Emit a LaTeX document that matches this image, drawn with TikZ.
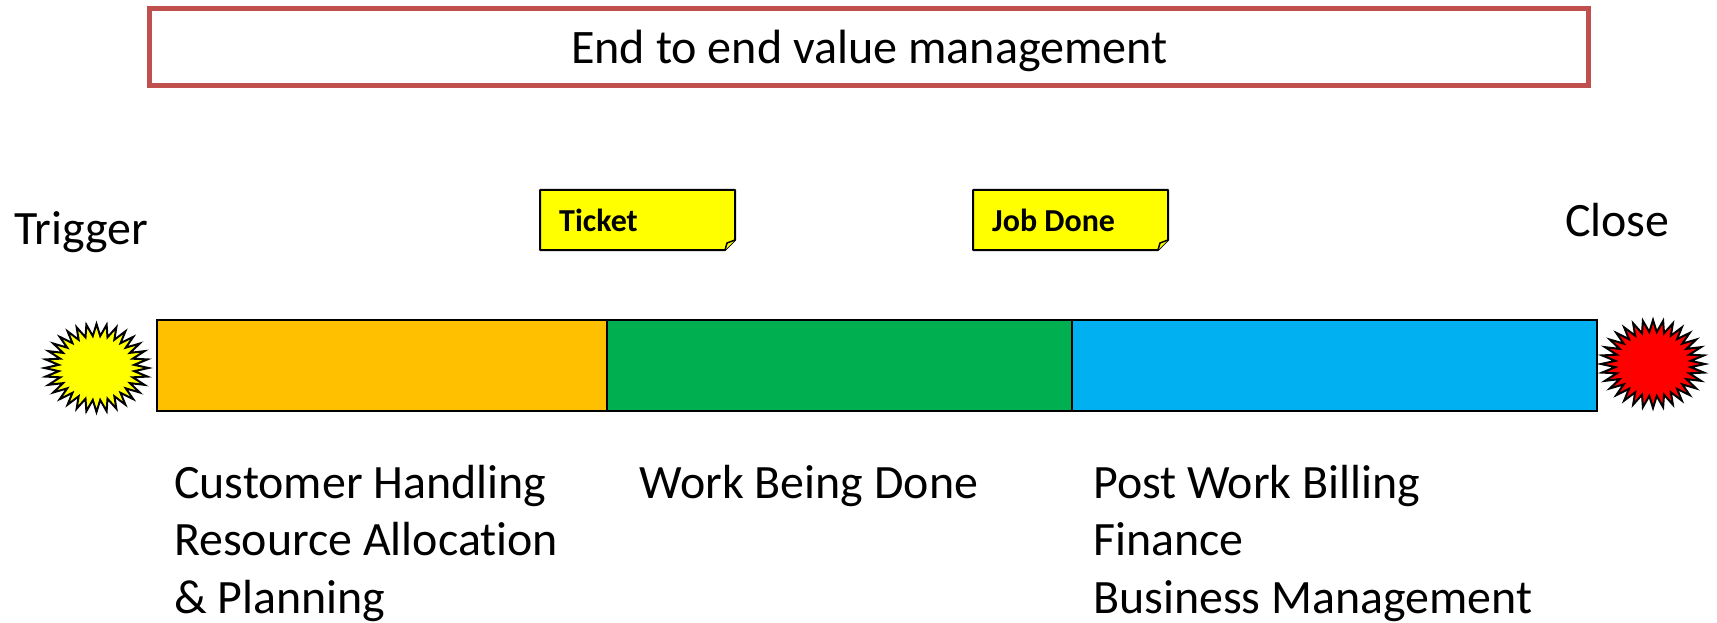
\documentclass[tikz,border=0pt]{standalone}
\usepackage{fontspec}
\setmainfont[Ligatures=NoCommon]{Carlito}
\usetikzlibrary{shapes.geometric}
\definecolor{frameRed}{HTML}{C0504D}
\definecolor{barOrange}{HTML}{FFC000}
\definecolor{barGreen}{HTML}{00B050}
\definecolor{barBlue}{HTML}{00B0F0}
\definecolor{noteYellow}{HTML}{FFFF00}
\definecolor{burstRed}{HTML}{FF0000}
\tikzset{
    bartext/.style={anchor=base west, inner sep=0pt, align=left, font=\fontsize{47.9}{57.5}\selectfont},
    notetext/.style={anchor=base west, inner sep=0pt, font=\fontsize{32}{38}\selectfont\bfseries},
    barpart/.style={draw=black, line width=2pt},
    notepaper/.style={draw=black, line width=2pt, fill=noteYellow, line join=round},
    burst/.style={star, star points=32, star point ratio=1.37, draw=black, line width=2pt,
        minimum size=88pt, inner sep=0pt, outer sep=0pt, xscale=1.18, transform shape}
}
\begin{document}
\begin{tikzpicture}[x=1pt, y=-1pt]
    \useasboundingbox (0,0) rectangle (1717,623);

    % Heading
    \node[draw=frameRed, line width=5pt, minimum width=1439pt, minimum height=77pt, inner sep=0pt] (heading) at (868.5,47) {};
    \node[bartext, font=\fontsize{48.1}{57.5}\selectfont] (headinglabel) at (571,64) {End to end value management};

    % Start and end
    \node[burst, fill=noteYellow] (trigger) at (96.5,368) {};
    \node[burst, fill=burstRed] (close) at (1653,364) {};
    \node[bartext] (triggerlabel) at (14,244) {Trigger};
    \node[bartext] (closelabel) at (1565,236) {Close};

    % Bar
    \draw[barpart, fill=barOrange] (157,320) rectangle (607,411);
    \draw[barpart, fill=barGreen] (607,320) rectangle (1072,411);
    \draw[barpart, fill=barBlue] (1072,320) rectangle (1597,411);

    % Notes
    \foreach \nx/\nname/\ntext in {540/ticket/Ticket, 973/jobdone/Job Done} {
        \draw[notepaper] (\nx,190) -- ++(195,0) -- ++(0,50) -- ++(-10,10) -- ++(-185,0) -- cycle;
        \draw[notepaper, line width=1.5pt] (\nx+185,250) -- ++(2,-7) -- ++(8,-3);
        \node[notetext] (\nname) at (\nx+19,231) {\ntext};
    }

    % Labels below the bar
    \node[bartext] (handling) at (174,613) {Customer Handling\\Resource Allocation\\\& Planning};
    \node[bartext] (working) at (639.5,498) {Work Being Done};
    \node[bartext] (billing) at (1093,613) {Post Work Billing\\Finance\\Business Management};
\end{tikzpicture}
\end{document}
